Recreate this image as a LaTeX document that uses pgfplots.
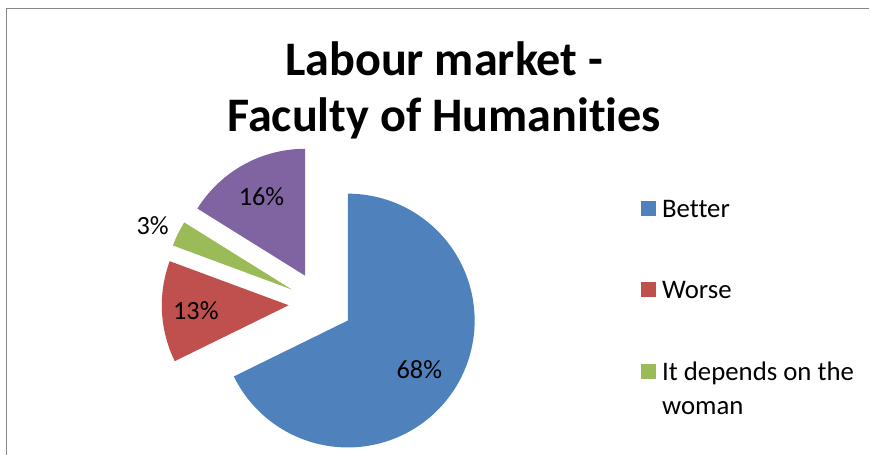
\documentclass[border=0pt]{standalone}
\usepackage{fontspec}
\setmainfont{Carlito}[Ligatures=CommonOff]
\usepackage{pgfplots}
\usepackage{pgfplotstable}
\pgfplotsset{compat=1.18}
\definecolor{pieblue}{HTML}{4F81BD}
\definecolor{piered}{HTML}{C0504D}
\definecolor{piegreen}{HTML}{9BBB59}
\definecolor{piepurple}{HTML}{8064A2}
\definecolor{framegray}{HTML}{868686}

\pgfplotsset{
  squareimage/.style={legend image code/.code={\fill[##1] (0bp,-7.5bp) rectangle (15bp,7.5bp);}},
  shiftedimage/.style={legend image code/.code={\fill[##1] (0bp,9.5bp) rectangle (15bp,24.5bp);}},
}

\pgfplotstableread{
label count
Better 21
Worse 4
Depends 1
Other 5
}\piedata
\pgfplotstablegetelem{0}{count}\of\piedata \let\cA\pgfplotsretval
\pgfplotstablegetelem{1}{count}\of\piedata \let\cB\pgfplotsretval
\pgfplotstablegetelem{2}{count}\of\piedata \let\cC\pgfplotsretval
\pgfplotstablegetelem{3}{count}\of\piedata \let\cD\pgfplotsretval

\pgfmathsetmacro\tot{\cA+\cB+\cC+\cD}
\def\Cx{320.9}
\def\Cy{303.9}
\def\R{127}
\def\ex{32}
\pgfmathsetmacro\aA{90}
\pgfmathsetmacro\aB{\aA-360*\cA/\tot}
\pgfmathsetmacro\aC{\aB-360*\cB/\tot}
\pgfmathsetmacro\aD{\aC-360*\cC/\tot}
\pgfmathsetmacro\aE{\aD-360*\cD/\tot}
\pgfmathsetmacro\xA{\Cx+\ex*cos((\aA+\aB)/2)}
\pgfmathsetmacro\yA{\Cy-\ex*sin((\aA+\aB)/2)}
\pgfmathsetmacro\xB{\Cx+\ex*cos((\aB+\aC)/2)}
\pgfmathsetmacro\yB{\Cy-\ex*sin((\aB+\aC)/2)}
\pgfmathsetmacro\xC{\Cx+\ex*cos((\aC+\aD)/2)}
\pgfmathsetmacro\yC{\Cy-\ex*sin((\aC+\aD)/2)}
\pgfmathsetmacro\xD{\Cx+\ex*cos((\aD+\aE)/2)}
\pgfmathsetmacro\yD{\Cy-\ex*sin((\aD+\aE)/2)}

\begin{document}
\begin{tikzpicture}
\begin{axis}[
  scale only axis, width=870bp, height=455bp,
  xmin=0, xmax=870, ymin=0, ymax=455, y dir=reverse,
  hide axis, clip=false,
  squareimage,
  legend cell align=left,
  legend style={draw=none, fill=none, inner sep=0pt, outer sep=0pt,
    at={(axis cs:641.7,200.3)}, anchor=north west,
    row sep=64bp, column sep=6bp,
    font=\fontsize{26.8bp}{33.5bp}\selectfont,
    nodes={inner sep=0pt, text depth=0pt, align=left}},
]
\path (axis cs:0,0) rectangle (axis cs:870,455);
\addplot[fill=pieblue, draw=none, domain=\aB:\aA, samples=150, variable=\t]
  ({\xA+\R*cos(\t)},{\yA-\R*sin(\t)}) -- (axis cs:\xA,\yA) -- cycle;
\addplot[fill=piered, draw=none, domain=\aC:\aB, samples=60, variable=\t]
  ({\xB+\R*cos(\t)},{\yB-\R*sin(\t)}) -- (axis cs:\xB,\yB) -- cycle;
\addplot[fill=piegreen, draw=none, domain=\aD:\aC, samples=30, variable=\t, shiftedimage]
  ({\xC+\R*cos(\t)},{\yC-\R*sin(\t)}) -- (axis cs:\xC,\yC) -- cycle;
\addplot[fill=piepurple, draw=none, domain=\aE:\aD, samples=60, variable=\t]
  ({\xD+\R*cos(\t)},{\yD-\R*sin(\t)}) -- (axis cs:\xD,\yD) -- cycle;
\legend{Better, Worse, {It depends on the\\woman}}

\draw[framegray, line width=1.5bp] (axis cs:6.7,455) -- (axis cs:6.7,8.5) -- (axis cs:870,8.5);

\node[font=\fontsize{48.2bp}{57bp}\selectfont\bfseries, anchor=base]
  at (axis cs:444.5,75.5) {Labour market -};
\node[font=\fontsize{48.2bp}{57bp}\selectfont\bfseries, anchor=base]
  at (axis cs:444.5,132) {Faculty of Humanities};

\begin{scope}[every node/.style={font=\fontsize{26.3bp}{30bp}\selectfont, inner sep=0pt}]
\node at (axis cs:419.7,369.5) {68\%};
\node at (axis cs:196,311.3) {13\%};
\node at (axis cs:152.8,226.3) {3\%};
\node at (axis cs:261.7,197) {16\%};
\end{scope}
\end{axis}
\end{tikzpicture}
\end{document}
